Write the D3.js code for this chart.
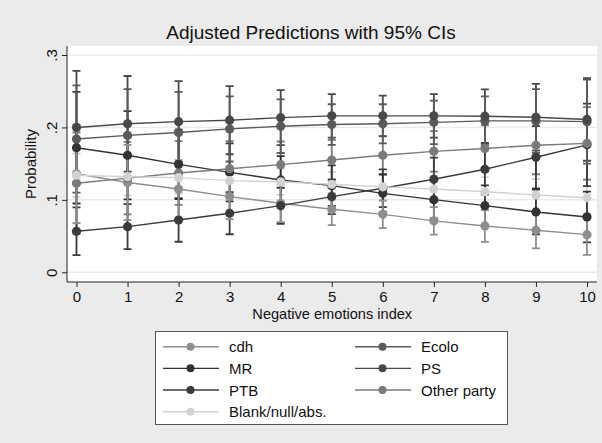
<!DOCTYPE html>
<html lang="en">
<head>
  <meta charset="UTF-8">
  <title>Adjusted Predictions with 95% CIs</title>
  <script src="https://d3js.org/d3.v7.min.js"></script>
  <style>
    html, body {
      margin: 0;
      background-color: #ebebeb;
      font-family: "Liberation Sans", Arial, Helvetica, sans-serif;
    }
    svg { display: block; }
    text { fill: #111; }
  </style>
</head>
<body>
  <svg id="chart" width="602" height="443"></svg>

  <script>
    // x values (Negative emotions index)
    const emotions = [0, 1, 2, 3, 4, 5, 6, 7, 8, 9, 10];
    const yTicks = [0, 0.1, 0.2, 0.3];

    // predicted probabilities and CI half widths
    const cdh     = [0.136, 0.124, 0.115, 0.1045, 0.0953, 0.087, 0.080, 0.071, 0.064, 0.058, 0.052];
    const cdhCI   = [0.068, 0.052, 0.040, 0.031, 0.026, 0.022, 0.019, 0.019, 0.022, 0.025, 0.028];
    const ecolo   = [0.184, 0.189, 0.193, 0.198, 0.2017, 0.204, 0.205, 0.207, 0.209, 0.209, 0.208];
    const ecoloCI = [0.074, 0.064, 0.056, 0.045, 0.037, 0.028, 0.027, 0.030, 0.034, 0.044, 0.058];
    const mr      = [0.172, 0.1616, 0.149, 0.138, 0.1275, 0.1196, 0.109, 0.1003, 0.092, 0.0833, 0.0764];
    const mrCI    = [0.077, 0.061, 0.048, 0.040, 0.033, 0.028, 0.026, 0.026, 0.028, 0.031, 0.035];
    const ps      = [0.200, 0.205, 0.208, 0.210, 0.2135, 0.216, 0.216, 0.216, 0.2155, 0.214, 0.211];
    const psCI    = [0.078, 0.066, 0.056, 0.047, 0.038, 0.030, 0.028, 0.030, 0.037, 0.046, 0.057];
    const ptb     = [0.0566, 0.063, 0.0722, 0.0815, 0.092, 0.1044, 0.116, 0.1284, 0.1422, 0.1588, 0.176];
    const ptbCI   = [0.033, 0.031, 0.030, 0.029, 0.025, 0.024, 0.026, 0.030, 0.035, 0.043, 0.057];
    const other   = [0.123, 0.130, 0.137, 0.143, 0.1486, 0.155, 0.1616, 0.167, 0.171, 0.1754, 0.178];
    const otherCI = [0.070, 0.050, 0.044, 0.038, 0.032, 0.028, 0.026, 0.028, 0.032, 0.040, 0.050];
    const blank   = [0.134, 0.132, 0.1307, 0.1265, 0.125, 0.1215, 0.118, 0.115, 0.1113, 0.1068, 0.103];
    const blankCI = [0.030, 0.026, 0.022, 0.020, 0.018, 0.017, 0.017, 0.018, 0.020, 0.022, 0.025];

    const seriesNames = ["cdh", "Ecolo", "MR", "PS", "PTB", "Other party", "Blank/null/abs."];
    const seriesValues = [cdh, ecolo, mr, ps, ptb, other, blank];
    const seriesCI = [cdhCI, ecoloCI, mrCI, psCI, ptbCI, otherCI, blankCI];
    const colors = ["#8e8e8e", "#5a5a5a", "#333333", "#484848", "#3b3b3b", "#7a7a7a", "#d2d2d2"];

    const series = seriesNames.map((name, i) => ({
      name,
      color: colors[i],
      points: emotions.map((x, j) => ({
        x, y: seriesValues[i][j],
        lo: seriesValues[i][j] - seriesCI[i][j],
        hi: seriesValues[i][j] + seriesCI[i][j]
      }))
    }));

    const svg = d3.select("#chart");

    // plot region
    const plot = { left: 67, right: 597, top: 46, bottom: 282 };

    const x = d3.scaleLinear().domain([0, 10]).range([76.5, 587]);
    const y = d3.scaleLinear().domain([0, 0.3]).range([272.3, 55]);

    svg.append("rect")
      .attr("x", plot.left).attr("y", plot.top)
      .attr("width", plot.right - plot.left).attr("height", plot.bottom - plot.top)
      .attr("fill", "#fff");

    // grid lines
    svg.append("g").selectAll("line")
      .data(yTicks)
      .enter().append("line")
      .attr("x1", plot.left).attr("x2", plot.right)
      .attr("y1", d => y(d)).attr("y2", d => y(d))
      .attr("stroke", "#eaeaea")
      .attr("stroke-width", 1.5);

    // axes
    const yAxis = svg.append("g")
      .attr("transform", `translate(${plot.left},0)`)
      .call(d3.axisLeft(y).tickValues(yTicks).tickSize(5).tickFormat(d => d === 0 ? "0" : d3.format(".1f")(d).replace(/^0/, "")));
    yAxis.select(".domain").attr("d", `M0,${plot.top}V${plot.bottom}`).attr("stroke", "#222");
    yAxis.selectAll(".tick line").attr("stroke", "#222");
    yAxis.selectAll(".tick text")
      .attr("x", null).attr("dy", null)
      .attr("transform", "translate(-10,0) rotate(-90)")
      .attr("text-anchor", "middle")
      .attr("y", 0)
      .style("font-size", "15px")
      .style("font-family", "Liberation Sans, Arial, sans-serif")
      .attr("fill", "#111");

    const xAxis = svg.append("g")
      .attr("transform", `translate(0,${plot.bottom})`)
      .call(d3.axisBottom(x).tickValues(emotions).tickSize(5).tickFormat(d3.format("d")));
    xAxis.select(".domain").attr("d", `M${plot.left},0H${plot.right}`).attr("stroke", "#222");
    xAxis.selectAll(".tick line").attr("stroke", "#222");
    xAxis.selectAll(".tick text")
      .attr("y", 9).attr("dy", "0.71em")
      .style("font-size", "15px")
      .style("font-family", "Liberation Sans, Arial, sans-serif")
      .attr("fill", "#111");

    // titles
    svg.append("text")
      .attr("x", 311).attr("y", 39)
      .attr("text-anchor", "middle")
      .style("font-size", "19px")
      .text("Adjusted Predictions with 95% CIs");

    svg.append("text")
      .attr("x", (x(0) + x(10)) / 2 + 0.5).attr("y", 319)
      .attr("text-anchor", "middle")
      .style("font-size", "14.6px")
      .text("Negative emotions index");

    svg.append("text")
      .attr("transform", `translate(36,${(plot.top + plot.bottom) / 2}) rotate(-90)`)
      .attr("text-anchor", "middle")
      .style("font-size", "15px")
      .text("Probability");

    // confidence interval caps (light series first so dark bars stay on top)
    const capW = 4;
    const ciLayer = svg.append("g");
    series.slice().reverse().forEach(s => {
      const g = ciLayer.append("g").attr("stroke", s.color).attr("stroke-width", 1.8).attr("fill", "none");
      g.selectAll("path")
        .data(s.points)
        .enter().append("path")
        .attr("d", d => `M${x(d.x) - capW},${y(d.hi)}H${x(d.x) + capW}M${x(d.x)},${y(d.hi)}V${y(d.lo)}M${x(d.x) - capW},${y(d.lo)}H${x(d.x) + capW}`);
    });

    // connected lines with markers
    const line = d3.line().x(d => x(d.x)).y(d => y(d.y));
    series.forEach(s => {
      const g = svg.append("g");
      g.append("path")
        .datum(s.points)
        .attr("d", line)
        .attr("fill", "none")
        .attr("stroke", s.color)
        .attr("stroke-width", 1.4);
      g.selectAll("circle")
        .data(s.points)
        .enter().append("circle")
        .attr("cx", d => x(d.x))
        .attr("cy", d => y(d.y))
        .attr("r", 4.6)
        .attr("fill", s.color);
    });

    // legend
    const legend = svg.append("g");
    legend.append("rect")
      .attr("x", 155.5).attr("y", 331.5)
      .attr("width", 352).attr("height", 93)
      .attr("fill", "#fff")
      .attr("stroke", "#555")
      .attr("stroke-width", 1);

    const colX = [163, 355];
    const rowY = d3.scaleLinear().domain([0, 3]).range([346.7, 411.7]);
    series.forEach((s, i) => {
      const row = legend.append("g")
        .attr("transform", `translate(${colX[i % 2]},${rowY(Math.floor(i / 2))})`);
      row.append("line")
        .attr("x1", 0).attr("x2", 56)
        .attr("stroke", s.color)
        .attr("stroke-width", 1.4);
      row.append("circle")
        .attr("cx", 27.5).attr("r", 4)
        .attr("fill", s.color);
      row.append("text")
        .attr("x", 66).attr("y", 5.5)
        .style("font-size", "15px")
        .text(s.name);
    });
  </script>
</body>
</html>
